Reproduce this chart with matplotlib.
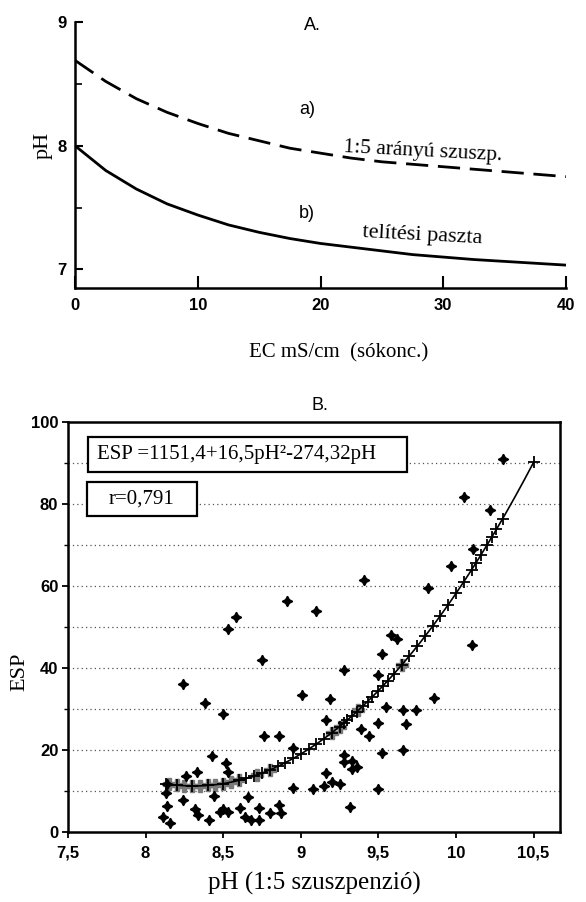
import numpy as np
import matplotlib.pyplot as plt
from matplotlib.patches import Rectangle
from matplotlib.ticker import MultipleLocator

# ---- panel A data ----
ec = [0, 2.5, 5, 7.5, 10, 12.5, 15, 17.5, 20, 22.5, 25, 27.5, 30, 32.5, 35, 37.5, 40]
ph_susp = [8.69, 8.52, 8.38, 8.27, 8.18, 8.10, 8.04, 7.98, 7.94, 7.90, 7.87, 7.85,
           7.83, 7.81, 7.79, 7.77, 7.75]
ph_paste = [8.00, 7.80, 7.65, 7.53, 7.44, 7.36, 7.30, 7.25, 7.21, 7.18, 7.15, 7.12,
            7.10, 7.08, 7.065, 7.05, 7.035]

# ---- panel B data ----
meas_ph = [10.30, 10.05, 10.22, 10.11, 9.97, 9.41, 9.82, 8.91, 9.10, 8.58, 8.53, 9.58,
           9.62, 10.10, 9.52, 8.75, 9.28, 9.50, 8.24, 9.01, 9.19, 9.86, 8.38, 9.55,
           9.66, 9.74, 8.50, 9.16, 9.50, 9.68, 9.39, 9.44, 8.76, 8.86, 8.95, 9.66,
           9.52, 8.43, 9.28, 9.33, 9.28, 8.52, 9.36, 9.33, 8.53, 8.33, 9.16, 8.26,
           9.20, 9.25, 9.15, 9.08, 8.95, 9.50, 9.32, 8.14, 8.13, 8.24, 8.14, 8.11,
           8.16, 8.32, 8.34, 8.41, 8.44, 8.50, 8.48, 8.53, 8.61, 8.66, 8.64, 8.68,
           8.73, 8.73, 8.80, 8.86, 8.87]
meas_esp = [91.0, 81.6, 78.6, 69.1, 65.0, 61.4, 59.4, 56.4, 54.0, 52.4, 49.6, 48.1,
            47.0, 45.7, 43.5, 42.0, 39.4, 38.4, 36.0, 33.4, 32.4, 32.6, 31.4, 30.5,
            29.7, 29.7, 28.7, 27.3, 26.7, 26.3, 25.1, 23.3, 23.5, 23.5, 20.5, 20.0,
            19.2, 18.5, 18.7, 17.4, 17.1, 16.8, 15.8, 15.3, 14.6, 14.6, 14.3, 13.6,
            12.2, 11.8, 11.1, 10.6, 10.7, 10.4, 6.0, 11.8, 9.4, 7.7, 6.4, 3.7,
            2.3, 5.6, 4.1, 2.9, 8.7, 5.5, 4.8, 5.0, 5.8, 8.6, 3.7, 2.9,
            2.9, 5.8, 4.6, 6.6, 4.6]

# pH values of the fitted (predicted) markers on the curve
fit_ph = [8.13, 8.2, 8.3, 8.4, 8.5, 8.6, 8.65, 8.7, 8.75, 8.8, 8.85, 8.9, 8.95, 9.0,
          9.05, 9.1, 9.15, 9.2, 9.25, 9.28, 9.3, 9.33, 9.36, 9.4, 9.43, 9.46, 9.5,
          9.53, 9.56, 9.6, 9.65, 9.7, 9.75, 9.8, 9.85, 9.9, 9.95, 10.0, 10.05, 10.1,
          10.13, 10.16, 10.2, 10.23, 10.26, 10.3, 10.5]
grey_ph = [8.15, 8.2, 8.25, 8.3, 8.35, 8.4, 8.45, 8.5, 8.55, 8.6, 8.72, 8.8,
           9.2, 9.25, 9.37, 9.65]
c0, c2, c1 = 1151.4, 16.5, -274.32


def esp_fit(p):
    p = np.asarray(p)
    return c0 + c2 * p**2 + c1 * p


serif = 'Liberation Serif'
sans = 'Liberation Sans'

fig = plt.figure(figsize=(5.86, 9.02), dpi=100)

# ================= A =================
axA = fig.add_axes([75/586, 1-288/902, 491/586, 266/902])
axA.plot(ec, ph_susp, color='black', lw=2.0, dashes=(8, 3.5))
axA.plot(ec, ph_paste, color='black', lw=2.0)
axA.set_xlim(0, 40)
axA.set_ylim(6.85, 9)
for s in ['top', 'right']:
    axA.spines[s].set_visible(False)
for s in ['left', 'bottom']:
    axA.spines[s].set_linewidth(1.8)
axA.set_yticks([7, 8, 9])
axA.yaxis.set_minor_locator(MultipleLocator(0.5))
axA.set_xticks([0, 10, 20, 30, 40])
axA.tick_params(axis='y', which='major', direction='in', length=6, width=1.5, pad=6)
axA.tick_params(axis='y', which='minor', direction='in', length=5, width=1.2)
axA.tick_params(axis='x', direction='in', length=9, width=1.5, pad=7)
for lab in axA.get_yticklabels() + axA.get_xticklabels():
    lab.set_fontfamily(sans)
    lab.set_fontweight('bold')
    lab.set_fontsize(12)
axA.set_ylabel('pH', family=serif, fontsize=16)
axA.yaxis.set_label_coords(-0.045, 0.535)
axA.text(19.3, 8.97, 'A.', family=sans, fontsize=13, ha='center', va='center')
axA.text(18.9, 8.29, 'a)', family=sans, fontsize=13, ha='center', va='center')
axA.text(18.9, 7.45, 'b)', family=sans, fontsize=13, ha='center', va='center')
axA.text(21.8, 7.95, '1:5 arányú szuszp.', family=serif, fontsize=15.5,
         ha='left', va='center', rotation=-3)
axA.text(23.4, 7.27, 'telítési paszta', family=serif, fontsize=16,
         ha='left', va='center', rotation=-3)
fig.text(339/586, 1-353/902, 'EC mS/cm  (sókonc.)', family=serif, fontsize=15,
         ha='center', va='center')

# ================= B =================
axB = fig.add_axes([68/586, 1-832/902, 492/586, 410/902])
axB.set_xlim(7.5, 10.67)
axB.set_ylim(0, 100)
for y in range(10, 100, 10):
    axB.axhline(y, color='#555555', lw=0.9, ls=(0, (1, 2.5)), zorder=1)
curve_ph = np.linspace(min(fit_ph), max(fit_ph), 200)
axB.plot(curve_ph, esp_fit(curve_ph), color='black', lw=1.2, zorder=3)
axB.plot(grey_ph, esp_fit(grey_ph), ls='none', marker='P', ms=9,
         color='#7a7a7a', zorder=2)
axB.plot(fit_ph, esp_fit(fit_ph), ls='none', marker='+', ms=8, mew=1.3,
         color='black', zorder=4)
axB.plot(meas_ph, meas_esp, ls='none', marker=(4, 1, 0), ms=7.5,
         color='black', zorder=4)
for s in axB.spines.values():
    s.set_linewidth(1.8)
axB.set_yticks([0, 20, 40, 60, 80, 100])
axB.yaxis.set_minor_locator(MultipleLocator(10))
axB.set_xticks([7.5, 8, 8.5, 9, 9.5, 10, 10.5])
axB.set_xticklabels(['7,5', '8', '8,5', '9', '9,5', '10', '10,5'])
axB.tick_params(axis='both', which='major', direction='out', length=4, width=1.3, pad=3)
axB.tick_params(axis='x', pad=6)
axB.tick_params(axis='y', which='minor', direction='out', length=3, width=1.0)
for lab in axB.get_yticklabels() + axB.get_xticklabels():
    lab.set_fontfamily(sans)
    lab.set_fontweight('bold')
    lab.set_fontsize(12)
axB.set_ylabel('ESP', family=serif, fontsize=16)
axB.yaxis.set_label_coords(-0.078, 0.39)
axB.set_xlabel('pH (1:5 szuszpenzió)', family=serif, fontsize=18, labelpad=8)
fig.text(320/586, 1-405/902, 'B.', family=sans, fontsize=13, ha='center', va='center')

# annotation boxes
axB.add_patch(Rectangle((0.041, 0.878), 0.648, 0.085, transform=axB.transAxes,
                        fc='white', ec='black', lw=1.6, zorder=5))
axB.text(0.058, 0.921, 'ESP =1151,4+16,5pH²-274,32pH', transform=axB.transAxes,
         family=serif, fontsize=15, ha='left', va='center', zorder=6)
axB.add_patch(Rectangle((0.039, 0.771), 0.223, 0.083, transform=axB.transAxes,
                        fc='white', ec='black', lw=1.6, zorder=5))
axB.text(0.150, 0.812, 'r=0,791', transform=axB.transAxes,
         family=serif, fontsize=15, ha='center', va='center', zorder=6)

fig.savefig('out.png', dpi=100)
